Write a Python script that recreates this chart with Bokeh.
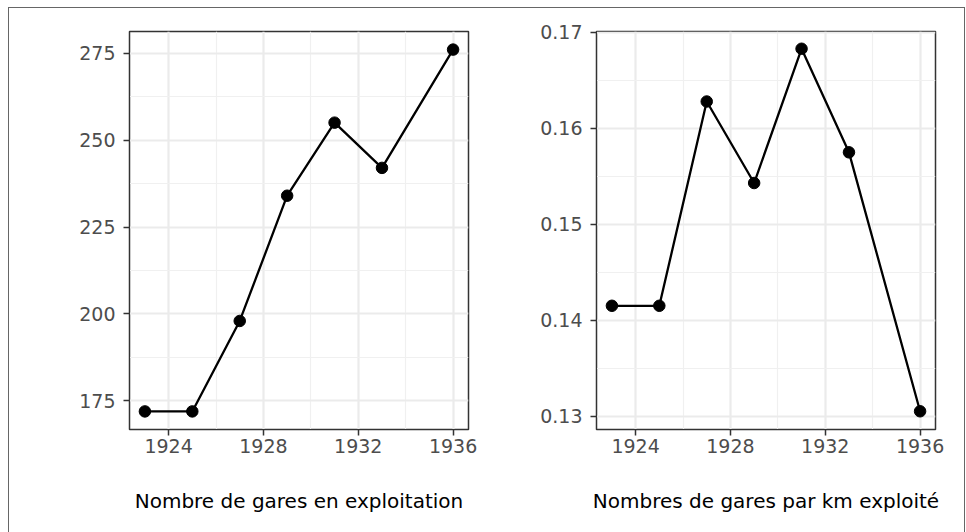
from bokeh.plotting import figure
from bokeh.layouts import row
from bokeh.models import FixedTicker, Range1d, PrintfTickFormatter
from bokeh.embed import file_html
from bokeh.resources import INLINE

years = [1923, 1925, 1927, 1929, 1931, 1933, 1936]
gares = [172, 172, 198, 234, 255, 242, 276]
gares_par_km = [0.1415, 0.1415, 0.1628, 0.1543, 0.1683, 0.1575, 0.1305]

x_ticks = [1924, 1928, 1932, 1936]
x_minor = [1922, 1926, 1930, 1934, 1938]
y1_ticks = [175, 200, 225, 250, 275]
y1_minor = [162.5, 187.5, 212.5, 237.5, 262.5, 287.5]
y2_ticks = [0.13, 0.14, 0.15, 0.16, 0.17]
y2_minor = [0.125, 0.135, 0.145, 0.155, 0.165, 0.175]

FONT = "DejaVu Sans"


def make_panel(y, title, yt, ym, yr, width, left, right, fmt=None):
    p = figure(width=width, height=530, output_backend="svg", toolbar_location=None,
               x_range=Range1d(1922.35, 1936.65), y_range=Range1d(*yr),
               min_border_left=left, min_border_right=right,
               min_border_top=23, min_border_bottom=109)
    p.outline_line_color = "#333333"
    p.outline_line_width = 1.5
    p.background_fill_color = "white"
    p.border_fill_color = "white"
    p.xaxis.ticker = FixedTicker(ticks=x_ticks, minor_ticks=x_minor)
    p.yaxis.ticker = FixedTicker(ticks=yt, minor_ticks=ym)
    if fmt:
        p.yaxis.formatter = PrintfTickFormatter(format=fmt)
    for ax in (p.xaxis, p.yaxis):
        ax.axis_line_color = "#333333"
        ax.major_tick_line_color = "#333333"
        ax.major_tick_line_width = 1.5
        ax.major_tick_out = 6
        ax.major_tick_in = 0
        ax.minor_tick_out = 0
        ax.minor_tick_in = 0
        ax.major_label_text_font = FONT
        ax.major_label_text_font_size = "19px"
        ax.major_label_text_color = "#4D4D4D"
    p.xaxis.major_label_standoff = 3
    p.yaxis.major_label_standoff = 8
    p.xaxis.axis_label = title
    p.xaxis.axis_label_text_font = FONT
    p.xaxis.axis_label_text_font_size = "20px"
    p.xaxis.axis_label_text_font_style = "normal"
    p.xaxis.axis_label_text_color = "black"
    p.xaxis.axis_label_standoff = 33
    for g in (p.xgrid, p.ygrid):
        g.grid_line_color = "#EBEBEB"
        g.grid_line_width = 2.2
        g.minor_grid_line_color = "#F0F0F0"
        g.minor_grid_line_width = 1.2
    p.line(years, y, line_color="black", line_width=2.3)
    p.scatter(years, y, size=11.5, color="black")
    return p


p1 = make_panel(gares, "Nombre de gares en exploitation", y1_ticks, y1_minor,
                (166.8, 281.2), 474, 120, 15)
p2 = make_panel(gares_par_km, "Nombres de gares par km exploité", y2_ticks, y2_minor,
                (0.1286, 0.1701), 481, 113, 29, fmt="%.2f")

layout = row(p1, p2, margin=(7, 0, 0, 8), styles={"border": "1px solid #666666"})
open("out.html", "w").write(file_html(layout, INLINE))
